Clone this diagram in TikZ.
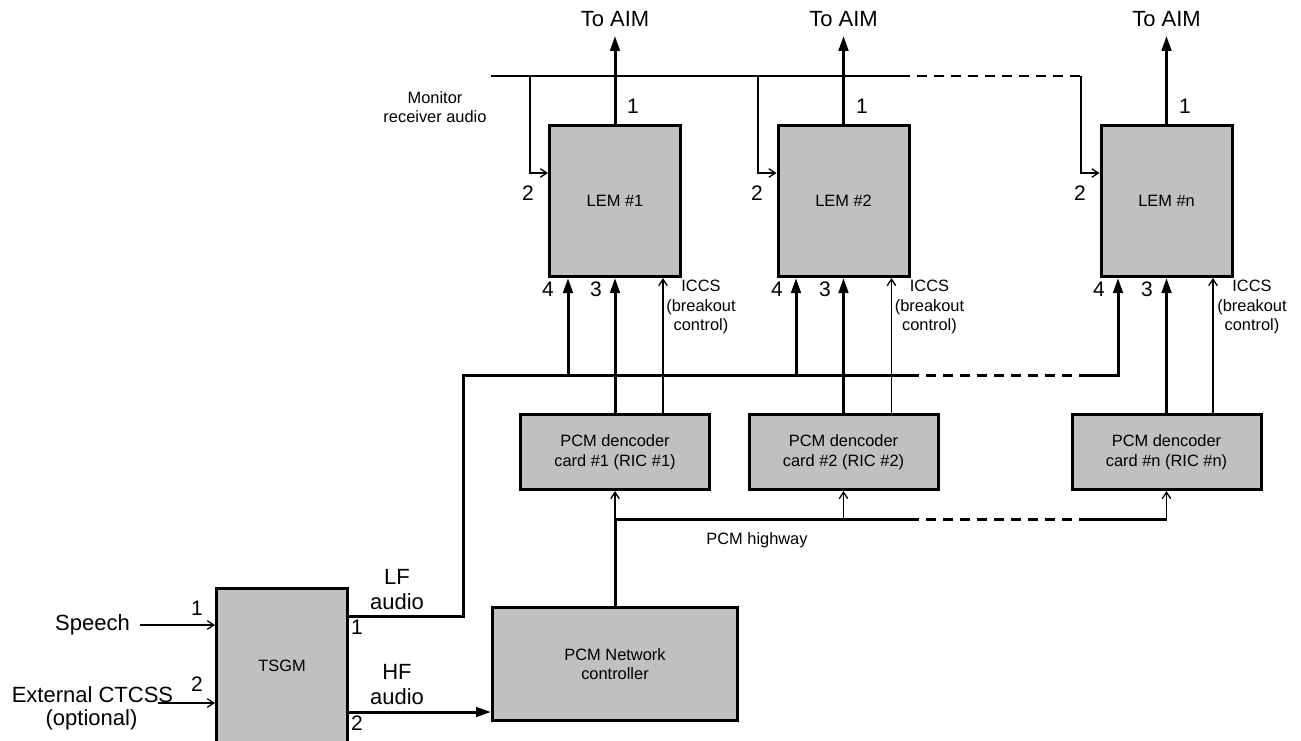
\documentclass[tikz,border=0pt]{standalone}
\usepackage{fontspec}
\setmainfont{Liberation Sans}
\usetikzlibrary{arrows.meta}
\definecolor{boxgray}{RGB}{192,192,192}
\begin{document}
\begin{tikzpicture}[x=1pt,y=-1pt,
  box/.style={draw, line width=3pt, fill=boxgray, inner sep=0pt, align=center,
              font=\fontsize{16.4}{19.5}\selectfont},
  thk/.style={line width=3pt},
  thn/.style={line width=1.3pt},
  thkarrow/.style={thk, -{Triangle[length=15pt,width=9.5pt]}},
  thnarrow/.style={thn, -{Straight Barb[length=6.5pt,width=8.5pt]}},
  big/.style={font=\fontsize{22}{25}\selectfont, inner sep=0pt, align=center},
  small/.style={font=\fontsize{16.4}{19.5}\selectfont, inner sep=0pt, align=center},
  port/.style={font=\fontsize{21}{24}\selectfont, inner sep=0pt},
  dsh/.style={dash pattern=on 10pt off 7pt},
]
\useasboundingbox (0,0) rectangle (1301,740);

% boxes
\node[box, minimum width=131pt, minimum height=151pt] (lem1) at (615,201) {LEM \#1};
\node[box, minimum width=131pt, minimum height=151pt] (lem2) at (843.5,201) {LEM \#2};
\node[box, minimum width=131pt, minimum height=151pt] (lemn) at (1166.5,201) {LEM \#n};
\node[box, minimum width=189pt, minimum height=75pt] (pcm1) at (615,452) {PCM dencoder\\card \#1 (RIC \#1)};
\node[box, minimum width=189pt, minimum height=75pt] (pcm2) at (843.5,452) {PCM dencoder\\card \#2 (RIC \#2)};
\node[box, minimum width=189pt, minimum height=75pt] (pcmn) at (1166.5,452) {PCM dencoder\\card \#n (RIC \#n)};
\node[box, minimum width=245pt, minimum height=113pt] (net) at (615,664) {PCM Network\\controller};
\node[box, minimum width=131pt, minimum height=155pt] (tsgm) at (282,666) {TSGM};

% To AIM
\node[big] (aim1) at (615,19) {To AIM};
\node[big] (aim2) at (843.5,19) {To AIM};
\node[big] (aimn) at (1166.5,19) {To AIM};
\draw[thkarrow, shorten >=9pt] (lem1.north) -- (aim1.south);
\draw[thkarrow, shorten >=9pt] (lem2.north) -- (aim2.south);
\draw[thkarrow, shorten >=9pt] (lemn.north) -- (aimn.south);

% Monitor receiver audio line
\coordinate (m0) at (491,76);
\coordinate (mb1) at (530,76);
\coordinate (mb2) at (758,76);
\coordinate (ms) at (910,76);
\coordinate (me) at (1081,76);
\coordinate (ty) at (0,173);
\draw[thn] (m0) -- (ms);
\draw[thn, dsh, dash phase=10pt] (ms) -- (me);
\draw[thnarrow] (mb1) |- (lem1.west |- ty);
\draw[thnarrow] (mb2) |- (lem2.west |- ty);
\draw[thnarrow] (me) |- (lemn.west |- ty);
\node[small] (mon) at (435,107) {Monitor\\receiver audio};

% LF audio bus
\coordinate (lfy) at (0,616);
\coordinate (busL) at (463,375);
\coordinate (busS) at (919,375);
\coordinate (busD) at (1080,375);
\coordinate (p4a) at (568,375);
\coordinate (p4b) at (796,375);
\coordinate (p4n) at (1118,375);
\draw[thk] (tsgm.east |- lfy) -| (busL) -- (busS);
\draw[thk, dsh, dash phase=10pt] (busS) -- (busD);
\draw[thkarrow] (p4a) -- (lem1.south -| p4a);
\draw[thkarrow] (p4b) -- (lem2.south -| p4b);
\draw[thkarrow] (busD) -| (lemn.south -| p4n);

% port 3 arrows
\draw[thkarrow] (pcm1.north) -- (lem1.south);
\draw[thkarrow] (pcm2.north) -- (lem2.south);
\draw[thkarrow] (pcmn.north) -- (lemn.south);

% ICCS arrows
\coordinate (i1) at (663,0);
\coordinate (i2) at (891.5,0);
\coordinate (in) at (1213,0);
\draw[thnarrow] (pcm1.north -| i1) -- (lem1.south -| i1);
\draw[thnarrow] (pcm2.north -| i2) -- (lem2.south -| i2);
\draw[thnarrow] (pcmn.north -| in) -- (lemn.south -| in);
\node[small] (iccs1) at (701,307) {ICCS\\(breakout\\control)};
\node[small] (iccs2) at (929.5,307) {ICCS\\(breakout\\control)};
\node[small] (iccsn) at (1252,307) {ICCS\\(breakout\\control)};

% PCM highway
\coordinate (hy) at (0,519);
\coordinate (hS) at (919,519);
\coordinate (hD) at (1080,519);
\draw[thk] (net.north) -- (net.north |- hy) -- (hS);
\draw[thk, dsh, dash phase=10pt] (hS) -- (hD);
\draw[thk] (hD) -- (pcmn.south |- hy);
\draw[thnarrow] (net.north |- hy) -- (pcm1.south);
\draw[thnarrow] (pcm2.south |- hy) -- (pcm2.south);
\draw[thnarrow] (pcmn.south |- hy) -- (pcmn.south);
\node[small] (hwl) at (757,540) {PCM highway};

% HF audio
\coordinate (hfy) at (0,712);
\draw[thkarrow] (tsgm.east |- hfy) -- (net.west |- hfy);

% inputs
\node[big] (speech) at (92.5,625) {Speech};
\draw[thnarrow, shorten <=10pt] (speech.east) -- (tsgm.west |- speech.east);
\node[big] (ext) at (92.5,695) {External CTCSS};
\node[big] (opt) at (91.5,720) {(optional)};
\coordinate (ext0) at (158,703);
\draw[thnarrow] (ext0) -- (tsgm.west |- ext0);

% audio labels
\node[big] (lf) at (397,590) {LF\\audio};
\node[big] (hf) at (397,685) {HF\\audio};

% port numbers
\node[port] (t1) at (197,608) {1};
\node[port] (t2) at (197,684) {2};
\node[port] (o1) at (357,627) {1};
\node[port] (o2) at (357,723) {2};
\node[port] (a1) at (633,106) {1};
\node[port] (b1) at (862,106) {1};
\node[port] (c1) at (1185,106) {1};
\node[port] (a2) at (528,193) {2};
\node[port] (b2) at (757,193) {2};
\node[port] (c2) at (1080,193) {2};
\node[port] (a4) at (548,289) {4};
\node[port] (b4) at (777,289) {4};
\node[port] (c4) at (1099,289) {4};
\node[port] (a3) at (596,289) {3};
\node[port] (b3) at (825,289) {3};
\node[port] (c3) at (1147,289) {3};
\end{tikzpicture}
\end{document}
